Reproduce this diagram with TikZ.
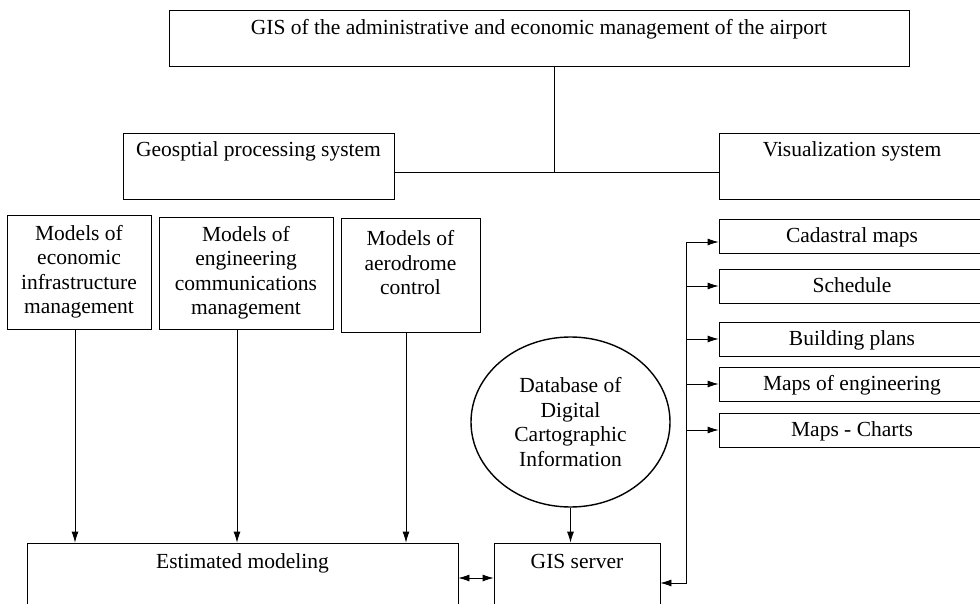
\documentclass[tikz,border=0pt]{standalone}
\usepackage{fontspec}
\setmainfont{Liberation Serif}
\usepackage{tikz}
\usetikzlibrary{shapes,positioning,arrows.meta}
\tikzset{box/.style={rectangle,draw,line width=0.8pt,inner sep=0pt,font=\fontsize{21.5}{24.5}\selectfont}}
\tikzset{mbox/.style={box,align=center}}
\tikzset{sbox/.style={box,minimum width=266pt,minimum height=34pt,text height=14pt,text depth=1pt}}
\tikzset{oval/.style={ellipse,draw,line width=1.4pt,inner sep=0pt,align=center,font=\fontsize{21.5}{24.5}\selectfont}}

\begin{document}
\begin{tikzpicture}[>={Latex[length=11pt,width=7pt]},x=1pt,y=-1pt]
    \clip (0,0) rectangle (980,604);

    % top level
    \node[box,minimum width=740pt,minimum height=56pt,text height=14pt,text depth=20pt] (gis) at (539,38) {GIS of the administrative and economic management of the airport};
    \node[box,minimum width=271pt,minimum height=66pt,text height=14pt,text depth=32pt] (geo) at (258.5,166) {Geosptial processing system};
    \node[box,minimum width=266pt,minimum height=66pt,text height=14pt,text depth=32pt] (vis) at (852,166) {Visualization system};

    % models
    \node[mbox,minimum width=144pt,minimum height=114pt] (econ) at (79,272) {Models of\\economic\\infrastructure\\management};
    \node[mbox,minimum width=174pt,minimum height=112pt] (engc) at (246,273) {Models of\\engineering\\communications\\management};
    \node[mbox,minimum width=139pt,minimum height=114pt] (aero) at (410.5,275) {Models of\\aerodrome\\control\\\mbox{}};

    \node[oval,minimum width=199pt,minimum height=170pt] (db) at (570.5,422) {Database of\\Digital\\Cartographic\\Information};

    \node[box,minimum width=431pt,minimum height=70pt,text height=14pt,text depth=34pt] (est) at (242.5,578) {Estimated modeling};
    \node[box,minimum width=166pt,minimum height=70pt,text height=14pt,text depth=34pt] (srv) at (577,578) {GIS server};

    % visualization outputs
    \node[sbox] (cad) at (852,236) {Cadastral maps};
    \node[sbox] (sch) at (852,286) {Schedule};
    \node[sbox] (bld) at (852,339) {Building plans};
    \node[sbox] (eng) at (852,384) {Maps of engineering};
    \node[sbox] (cha) at (852,430) {Maps - Charts};

    \coordinate (j) at (554,172);
    \coordinate (bus) at (686,242);
    \coordinate (busend) at (686,583);

    \draw[line width=0.8pt] (gis.south -| j) -- (j);
    \draw[line width=0.8pt] (geo.east |- j) -- (vis.west |- j);

    \draw[->,line width=0.8pt] ([xshift=-4pt]econ.south) -- ([xshift=-4pt]econ.south |- est.north);
    \draw[->,line width=0.8pt] ([xshift=-9pt]engc.south) -- ([xshift=-9pt]engc.south |- est.north);
    \draw[->,line width=0.8pt] ([xshift=-4.5pt]aero.south) -- ([xshift=-4.5pt]aero.south |- est.north);

    \draw[<->,line width=0.8pt] (est.east) -- (srv.west);
    \draw[->,line width=0.8pt] (db.south) -- (db.south |- srv.north);

    \draw[->,line width=0.8pt] (bus) -- (bus -| cad.west);
    \foreach \n in {sch,bld,eng,cha}
        \draw[->,line width=0.8pt] (bus |- \n.west) -- (\n.west);
    \draw[->,line width=0.8pt] (bus) -- (busend) -- (srv.east |- busend);
\end{tikzpicture}
\end{document}
